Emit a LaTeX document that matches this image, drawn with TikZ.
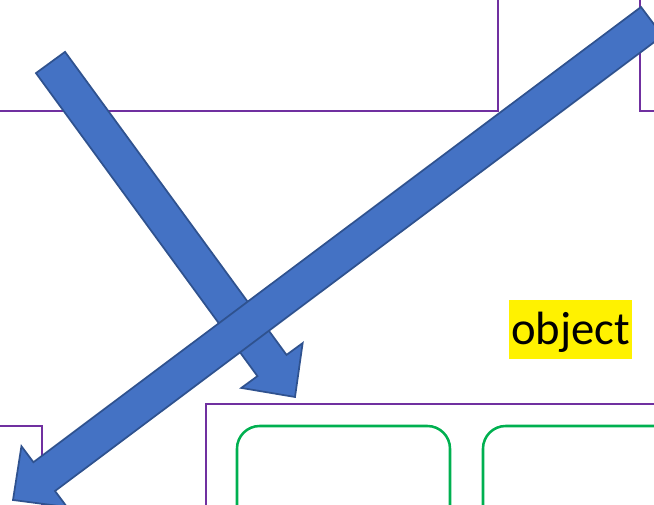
\documentclass[tikz,border=0pt]{standalone}
\usepackage{fontspec}
\setmainfont{Carlito}
\usetikzlibrary{calc}

\definecolor{boxpurple}{RGB}{112,48,160}
\definecolor{boxgreen}{RGB}{0,176,80}
\definecolor{arrowfill}{RGB}{68,114,196}
\definecolor{arrowline}{RGB}{47,82,143}

% block arrow from tail #1 to tip #2
\newcommand{\blockarrow}[2]{%
  \coordinate (#2base) at ($(#2)!29.25pt!(#1)$);
  \draw[bluearrow] ($(#1)!13.5pt!90:(#2)$) -- ($(#2base)!13.5pt!90:(#2)$)
    -- ($(#2base)!28.5pt!90:(#2)$) -- (#2)
    -- ($(#2base)!28.5pt!-90:(#2)$) -- ($(#2base)!13.5pt!-90:(#2)$)
    -- ($(#1)!13.5pt!-90:(#2)$) -- cycle;
}

\tikzset{
  frame/.style={draw=boxpurple, line width=1.6pt},
  card/.style={draw=boxgreen, line width=1.9pt, rounded corners=17pt},
  bluearrow/.style={fill=arrowfill, draw=arrowline, line width=1.3pt, line join=miter},
  hilite/.style={fill=yellow, inner sep=0pt, minimum width=92.25pt,
    text height=33.75pt, text depth=10.5pt, font=\fontsize{35}{42}\selectfont}
}

\begin{document}
\begin{tikzpicture}[x=0.75pt,y=-0.75pt]

\useasboundingbox (0,0) rectangle (654,505);
\clip (0,0) rectangle (654,505);

% Purple frames (they run off the page)
\draw[frame] (-10,-10) rectangle (498,111);  % top left
\draw[frame] (640,-10) rectangle (700,111);  % top right
\draw[frame] (-10,426) rectangle (42,560);   % bottom left
\draw[frame] (206,404) rectangle (700,560);  % bottom middle

% Green rounded boxes inside the bottom frame
\draw[card] (237,426) rectangle (450,560);
\draw[card] (483,426) rectangle (700,560);

% Highlighted label
\node[hilite] (obj) at (570.5,329.5) {object};

% Ends of the two arrows
\coordinate (downtail) at (50.5,62.5);
\coordinate (downtip) at (295,397);
\coordinate (crosstail) at (651.8,21.4);
\coordinate (crosstip) at (13,500);

% Blue block arrows
\blockarrow{downtail}{downtip}
\blockarrow{crosstail}{crosstip}

\end{tikzpicture}
\end{document}
